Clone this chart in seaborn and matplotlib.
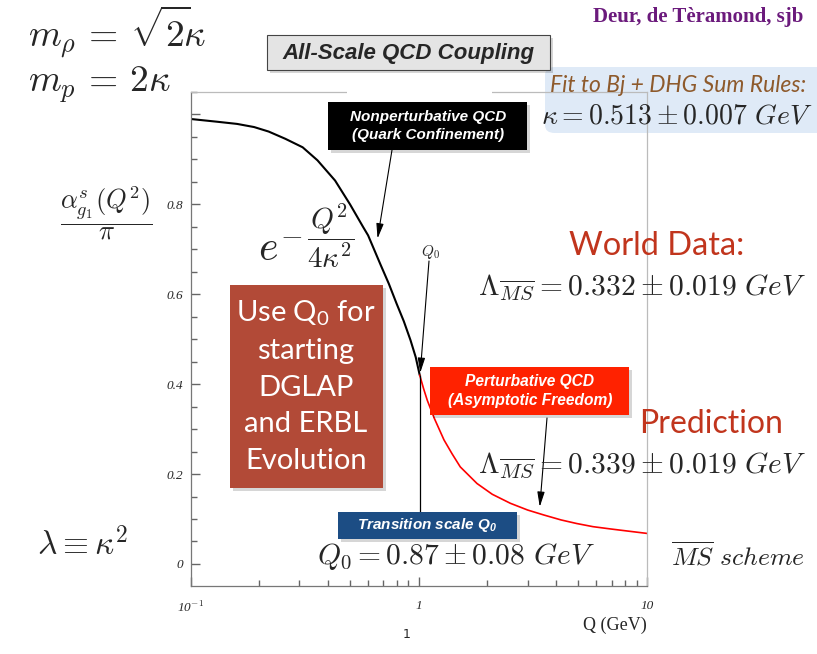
import numpy as np
import pandas as pd
import seaborn as sns
import matplotlib.pyplot as plt
from matplotlib.patches import Rectangle, FancyBboxPatch
from matplotlib.ticker import FixedLocator, LogLocator, NullFormatter

# coupling curve: nonperturbative (black) and perturbative (red) branches
q_np = [0.10, 0.13, 0.16, 0.19, 0.22, 0.26, 0.31, 0.36, 0.43, 0.50, 0.57, 0.60,
        0.68, 0.74, 0.80, 0.86, 0.92, 0.97, 1.01]
a_np = [0.990, 0.984, 0.979, 0.972, 0.962, 0.946, 0.927, 0.898, 0.853, 0.800, 0.750, 0.731,
        0.666, 0.623, 0.579, 0.540, 0.498, 0.460, 0.420]
q_pt = [1.01, 1.05, 1.09, 1.17, 1.29, 1.40, 1.52, 1.80, 2.10, 2.52, 3.00, 3.53,
        4.20, 4.92, 5.80, 6.90, 8.30, 10.0]
a_pt = [0.420, 0.390, 0.364, 0.324, 0.276, 0.245, 0.216, 0.179, 0.155, 0.135, 0.120, 0.109,
        0.098, 0.090, 0.083, 0.078, 0.073, 0.068]

# transition marker and arrow targets
q_mark = 1.01
a_mark = [0.115, 0.42]
np_target = (0.66, 0.724)
q0_target = (1.015, 0.425)
pt_target = (3.39, 0.127)

x_ticks = [0.1, 1, 10]
x_labels = ['10$^{-1}$', '1', '10']
y_ticks = [0, 0.2, 0.4, 0.6, 0.8, 1.0]
y_labels = ['0', '0.2', '0.4', '0.6', '0.8', '']

sns.set_style("ticks")
plt.rcParams['mathtext.fontset'] = 'cm'
plt.rcParams['font.family'] = ['DejaVu Sans']

W, H = 817, 654
fig = plt.figure(figsize=(W / 100, H / 100), dpi=100)
ax = fig.add_axes([190.5 / W, 1 - 586 / H, (647 - 190.5) / W, (586 - 92) / H])
ax.set_facecolor('none')


def P(x, y):
    return (x / W, 1 - y / H)


def box(x0, y0, x1, y1, fc, ec='none', z=2, shadow=True, rounded=False):
    if shadow:
        fig.patches.append(Rectangle(P(x0 + 3, y1 + 3), (x1 - x0) / W, (y1 - y0) / H,
                                     transform=fig.transFigure, fc='#000000', alpha=0.16,
                                     ec='none', zorder=z - 0.1))
    if rounded:
        p = FancyBboxPatch(P(x0, y1), (x1 - x0) / W, (y1 - y0) / H,
                           boxstyle='round,pad=0,rounding_size=0.012',
                           transform=fig.transFigure, fc=fc, ec=ec, zorder=z)
    else:
        p = Rectangle(P(x0, y1), (x1 - x0) / W, (y1 - y0) / H, transform=fig.transFigure,
                      fc=fc, ec=ec, lw=0.8, zorder=z)
    fig.patches.append(p)


# curves
sns.lineplot(x=q_np, y=a_np, ax=ax, color='black', lw=1.5, sort=False, estimator=None)
sns.lineplot(x=q_pt, y=a_pt, ax=ax, color='#ff0000', lw=1.2, sort=False, estimator=None)
ax.vlines(q_mark, a_mark[0], a_mark[1], color='black', lw=0.9)

ax.set_xscale('log')
ax.set_xlim(0.1, 10)
ax.set_ylim(-0.049, 1.05)
ax.xaxis.set_major_locator(FixedLocator(x_ticks))
ax.set_xticklabels(x_labels)
ax.xaxis.set_minor_locator(LogLocator(subs=np.arange(2, 10)))
ax.xaxis.set_minor_formatter(NullFormatter())
ax.yaxis.set_major_locator(FixedLocator(y_ticks))
ax.set_yticklabels(y_labels)
ax.yaxis.set_minor_locator(FixedLocator(np.arange(0, 1.051, 0.05)))
ax.tick_params(which='both', direction='in', left=True, bottom=True, right=False, top=False,
               color='#666', width=1.0)
ax.tick_params(which='major', length=6.5)
ax.tick_params(which='minor', length=4)
ax.tick_params(axis='x', which='major', pad=10)
ax.tick_params(axis='y', which='major', pad=5)
for lab in ax.get_xticklabels() + ax.get_yticklabels():
    lab.set_family('Liberation Serif')
    lab.set_style('italic')
    lab.set_fontsize(9.5)
for s in ['left', 'bottom']:
    ax.spines[s].set_color('#777')
    ax.spines[s].set_linewidth(0.9)
for s in ['right', 'top']:
    ax.spines[s].set_color('#bbb')
    ax.spines[s].set_linewidth(0.9)
ax.set_xlabel('')
ax.set_ylabel('')

# slide decorations
box(545, 67, 830, 133, '#dfeaf7', z=-1, shadow=False, rounded=True)
box(347, 86, 492, 97, 'white', z=1, shadow=False)
box(267, 35, 550, 70, '#e4e4e4', ec='#444', z=2)
box(328, 102, 527, 150, 'black', z=2)
box(230, 285, 383, 488, '#b24a37', z=2)
box(430, 367, 629, 415, '#ff2200', z=2)
box(338, 512, 517, 539, '#1c4d84', z=2)

fig.text(*P(409, 53), 'All-Scale QCD Coupling', ha='center', va='center', fontsize=16,
         fontweight='bold', fontstyle='italic', family='Liberation Sans', zorder=5)
fig.text(*P(428, 126), 'Nonperturbative QCD\n(Quark Confinement)', ha='center', va='center',
         fontsize=11, fontweight='bold', fontstyle='italic', family='Liberation Sans',
         color='white', linespacing=1.3, zorder=5)
fig.text(*P(530, 391), 'Perturbative QCD\n(Asymptotic Freedom)', ha='center', va='center',
         fontsize=11.2, fontweight='bold', fontstyle='italic', family='Liberation Sans',
         color='white', linespacing=1.3, zorder=5)
fig.text(*P(427, 525), r'Transition scale Q$\mathregular{_0}$', ha='center', va='center',
         fontsize=11, fontweight='bold', fontstyle='italic', family='Liberation Sans',
         color='white', zorder=5)
fig.text(*P(306, 386), 'Use Q$\\mathregular{_0}$ for\nstarting\nDGLAP\nand ERBL\nEvolution',
         ha='center', va='center', fontsize=21, family='Lato', color='white',
         linespacing=1.5, zorder=5)

fig.text(*P(28, 32), r'$m_\rho \,=\, \sqrt{2}\!\kappa$', ha='left', va='center', fontsize=27)
fig.text(*P(28, 85), r'$m_p \,=\, 2\kappa$', ha='left', va='center', fontsize=27)
fig.text(*P(803, 17), 'Deur, de Tèramond, sjb', ha='right', va='center', fontsize=15,
         fontweight='bold', family='Liberation Serif', color='#6b1a7c')
fig.text(*P(678, 85), 'Fit to Bj + DHG Sum Rules:', ha='center', va='center', fontsize=16.5,
         fontstyle='italic', family='Lato', color='#8e5a2c')
fig.text(*P(677, 115), r'$\kappa = 0.513 \pm 0.007\ GeV$', ha='center', va='center', fontsize=20)
fig.text(*P(306, 236), r'$e^{-\,\dfrac{Q^2}{4\kappa^2}}$', ha='center', va='center', fontsize=30)
fig.text(*P(106, 213), r'$\dfrac{\alpha^s_{g_1}(Q^2)}{\pi}$', ha='center', va='center', fontsize=19)
fig.text(*P(82, 545), r'$\lambda \equiv \kappa^2$', ha='center', va='center', fontsize=24)
fig.text(*P(657, 246), 'World Data:', ha='center', va='center', fontsize=23.5, family='Lato',
         color='#c1351d')
fig.text(*P(642, 287), r'$\Lambda_{\overline{MS}} = 0.332 \pm 0.019\ GeV$', ha='center',
         va='center', fontsize=21.3)
fig.text(*P(711, 424), 'Prediction', ha='center', va='center', fontsize=23, family='Lato',
         color='#c1351d')
fig.text(*P(642, 465), r'$\Lambda_{\overline{MS}} = 0.339 \pm 0.019\ GeV$', ha='center',
         va='center', fontsize=21.3)
fig.text(*P(456, 556), r'$Q_0 = 0.87 \pm 0.08\ GeV$', ha='center', va='center', fontsize=21.3)
fig.text(*P(738, 557), r'$\overline{MS}\ scheme$', ha='center', va='center', fontsize=18.5)
fig.text(*P(647, 625), 'Q (GeV)', ha='right', va='center', fontsize=13, family='Liberation Serif')
fig.text(*P(407, 634), '1', ha='center', va='center', fontsize=9)
fig.text(*P(430, 252), r'$Q_0$', ha='center', va='center', fontsize=11)

# arrows pointing at the curve
arrow = dict(arrowstyle='-|>,head_length=0.9,head_width=0.22', color='black', lw=0.8,
             shrinkA=0, shrinkB=0)
ax.annotate('', xy=np_target, xytext=P(392, 150), textcoords='figure fraction',
            arrowprops=arrow, annotation_clip=False)
ax.annotate('', xy=q0_target, xytext=P(429, 261), textcoords='figure fraction',
            arrowprops=arrow, annotation_clip=False)
ax.annotate('', xy=pt_target, xytext=P(547, 418), textcoords='figure fraction',
            arrowprops=arrow, annotation_clip=False)

fig.savefig('out.png', dpi=100)
